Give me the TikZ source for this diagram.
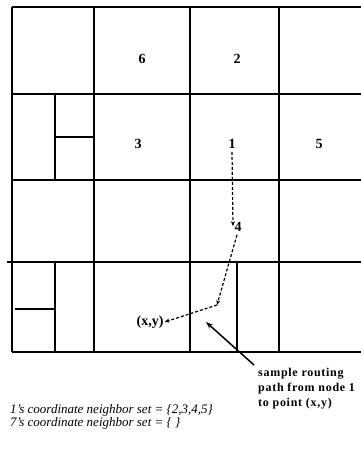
\documentclass[tikz,border=0pt]{standalone}
\usepackage{fontspec}
\setmainfont{Liberation Serif}
\usetikzlibrary{arrows.meta}
\begin{document}
\begin{tikzpicture}[x=1pt,y=-1pt,
  grid/.style={line width=1.2pt},
  num/.style={font=\fontsize{14}{14}\selectfont\bfseries, inner sep=0pt},
  route/.style={line width=1.2pt, dash pattern=on 3pt off 2pt, -{Stealth[length=5pt,width=4pt]}},
  pointer/.style={line width=1.5pt, -{Stealth[length=7pt,width=5pt]}},
  note/.style={font=\fontsize{12}{15}\selectfont\bfseries\addfontfeatures{LetterSpace=6}, align=left, inner sep=0pt},
  caption/.style={font=\fontsize{13}{10}\selectfont\itshape, inner sep=0pt, anchor=base west}]
\useasboundingbox (0,0) rectangle (361,456);
% grid
\draw[grid] (12,7) -- (361,7);
\draw[grid] (12,94) -- (361,94);
\draw[grid] (12,180) -- (361,180);
\draw[grid] (7,262) -- (361,262);
\draw[grid] (12,352) -- (361,352);
\draw[grid] (12,7) -- (12,352);
\draw[grid] (94,7) -- (94,352);
\draw[grid] (190,7) -- (190,352);
\draw[grid] (279,7) -- (279,352);
\draw[grid] (55,94) -- (55,180);
\draw[grid] (55,137) -- (94,137);
\draw[grid] (55,262) -- (55,352);
\draw[grid] (15,309) -- (55,309);
\draw[grid] (237,262) -- (237,352);
% labels
\node[num] (n6) at (142,59) {6};
\node[num] (n2) at (237,59) {2};
\node[num] (n3) at (138,144) {3};
\node[num] (n1) at (232,144) {1};
\node[num] (n5) at (319,144) {5};
\node[num] (n4) at (238,227) {4};
\node[num] (xy) at (150,322) {(x,y)};
\coordinate (bend) at (217,305);
\coordinate (tip) at (206,322);
% routing path
\draw[route] ([yshift=-3pt]n1.south) -- ([xshift=-5pt,yshift=-4pt]n4.north);
\draw[route] ([xshift=-1pt,yshift=-3pt]n4.south) -- (bend);
\draw[route] (bend) -- ([xshift=1pt]xy.east);
% annotation
\node[note, anchor=north west] (txt) at (258,368) {sample routing\\path from node 1\\to point (x,y)};
\draw[pointer] ([xshift=-4pt,yshift=3pt]txt.north west) -- (tip);
\node[caption] (cap1) at (10,413) {1's coordinate neighbor set = \{2,3,4,5\}};
\node[caption] (cap7) at (10,426) {7's coordinate neighbor set = \{ \}};
\end{tikzpicture}
\end{document}
